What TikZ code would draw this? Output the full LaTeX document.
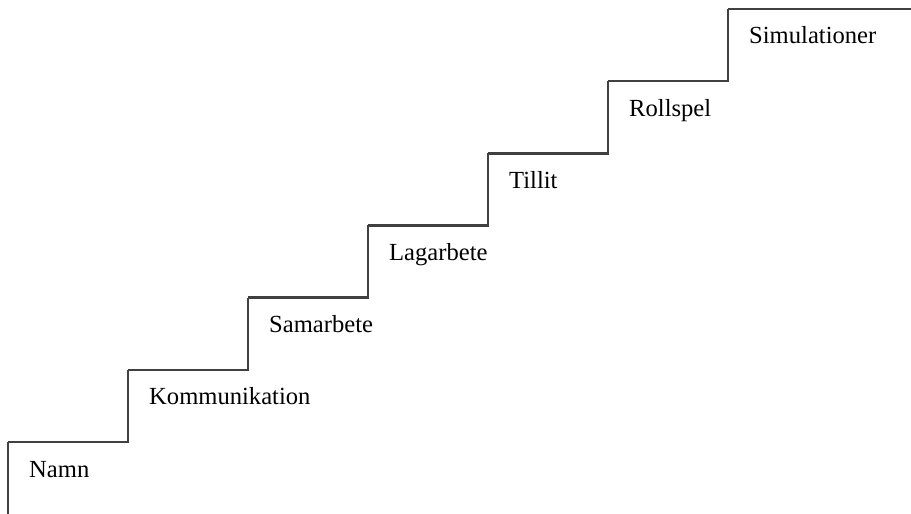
\documentclass[tikz,border=0pt]{standalone}
\usepackage{fontspec}
\setmainfont{Liberation Serif}
\begin{document}
\begin{tikzpicture}[x=1pt,y=-1pt]
      \useasboundingbox (0,0) rectangle (911,514);
      \path[draw,line width=2.4pt,black!75] (8,514) -- (8,442);
      \foreach \s in {0, ..., 5} {
        \def\ystep{442-72.17*\s}
        \path[draw,line width=2.4pt,black!75,line join=miter] (8+120*\s,\ystep) -- (128+120*\s,\ystep) -- (128+120*\s,\ystep-72.17);
      }
      \path[draw,line width=2.4pt,black!75] (728,9) -- (911,9);
      \foreach \lbl [count=\i from 0] in {Namn, Kommunikation, Samarbete, Lagarbete, Tillit, Rollspel, Simulationer} {
        \node[anchor=base west,inner sep=0pt,font=\fontsize{24.6}{28}\selectfont] (step\i) at (29+120*\i,477-72.17*\i) {\lbl};
      }
    \end{tikzpicture}
\end{document}
